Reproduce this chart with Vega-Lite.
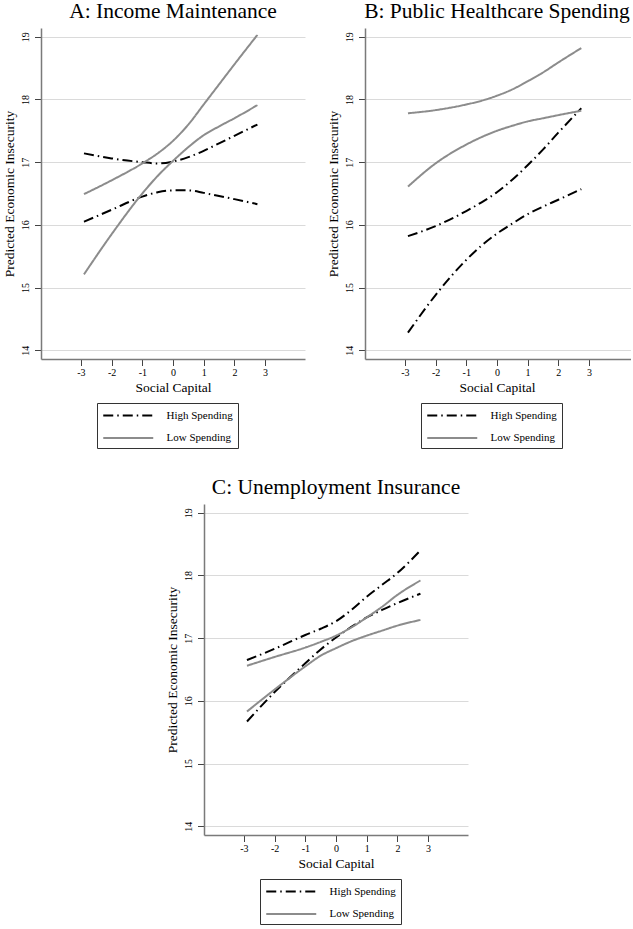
{
  "$schema": "https://vega.github.io/schema/vega-lite/v6.json",
  "padding": {"left": 2, "top": 0, "right": 0, "bottom": 0},
  "background": "white",
  "spacing": 27,
  "center": true,
  "config": {
    "view": {"stroke": null},
    "font": "Liberation Serif",
    "axis": {
      "labelFont": "Liberation Serif",
      "titleFont": "Liberation Serif",
      "labelColor": "#000000",
      "titleColor": "#000000",
      "titleFontWeight": "normal",
      "labelFontSize": 10,
      "titleFontSize": 13.5,
      "domainColor": "#7a7a7a",
      "domainWidth": 1.5,
      "tickColor": "#444444",
      "tickWidth": 1,
      "tickSize": 6.5,
      "gridColor": "#dadada",
      "gridWidth": 1
    },
    "axisX": {"grid": false, "labelPadding": 2, "titlePadding": 3},
    "axisY": {"labelAngle": -90, "labelAlign": "center", "labelBaseline": "bottom", "labelPadding": 4, "titlePadding": 4},
    "title": {"font": "Liberation Serif", "fontSize": 21.5, "fontWeight": "normal", "color": "#000000", "frame": "group", "anchor": "middle", "baseline": "alphabetic", "offset": 6},
    "legend": {
      "orient": "none",
      "legendX": 56,
      "legendY": 375,
      "direction": "vertical",
      "title": null,
      "symbolType": "M-1,0H7",
      "symbolSize": 156.25,
      "symbolStrokeWidth": 2,
      "labelFont": "Liberation Serif",
      "labelFontSize": 11,
      "labelColor": "#000000",
      "labelOffset": 49.5,
      "strokeColor": "#333333",
      "fillColor": "white",
      "padding": 5,
      "rowPadding": 9.5
    }
  },
  "vconcat": [
    {
      "hconcat": [
        {
          "title": "A: Income Maintenance",
          "width": 264,
          "height": 331,
          "data": {"values": [
            {"group": "High Spending", "bound": "upper", "x": -2.9, "y": 17.14},
            {"group": "High Spending", "bound": "upper", "x": -2, "y": 17.06},
            {"group": "High Spending", "bound": "upper", "x": -1, "y": 17.0},
            {"group": "High Spending", "bound": "upper", "x": -0.5, "y": 16.98},
            {"group": "High Spending", "bound": "upper", "x": 0, "y": 17.01},
            {"group": "High Spending", "bound": "upper", "x": 0.5, "y": 17.08},
            {"group": "High Spending", "bound": "upper", "x": 1, "y": 17.18},
            {"group": "High Spending", "bound": "upper", "x": 1.5, "y": 17.3},
            {"group": "High Spending", "bound": "upper", "x": 2, "y": 17.42},
            {"group": "High Spending", "bound": "upper", "x": 2.75, "y": 17.6},
            {"group": "High Spending", "bound": "lower", "x": -2.9, "y": 16.05},
            {"group": "High Spending", "bound": "lower", "x": -2, "y": 16.24},
            {"group": "High Spending", "bound": "lower", "x": -1, "y": 16.45},
            {"group": "High Spending", "bound": "lower", "x": -0.5, "y": 16.52},
            {"group": "High Spending", "bound": "lower", "x": 0, "y": 16.55},
            {"group": "High Spending", "bound": "lower", "x": 0.5, "y": 16.55},
            {"group": "High Spending", "bound": "lower", "x": 1, "y": 16.51},
            {"group": "High Spending", "bound": "lower", "x": 1.5, "y": 16.46},
            {"group": "High Spending", "bound": "lower", "x": 2, "y": 16.41},
            {"group": "High Spending", "bound": "lower", "x": 2.75, "y": 16.33},
            {"group": "Low Spending", "bound": "upper", "x": -2.9, "y": 16.49},
            {"group": "Low Spending", "bound": "upper", "x": -2, "y": 16.71},
            {"group": "Low Spending", "bound": "upper", "x": -1, "y": 16.98},
            {"group": "Low Spending", "bound": "upper", "x": -0.5, "y": 17.14},
            {"group": "Low Spending", "bound": "upper", "x": 0, "y": 17.34},
            {"group": "Low Spending", "bound": "upper", "x": 0.5, "y": 17.6},
            {"group": "Low Spending", "bound": "upper", "x": 1, "y": 17.92},
            {"group": "Low Spending", "bound": "upper", "x": 1.5, "y": 18.24},
            {"group": "Low Spending", "bound": "upper", "x": 2, "y": 18.56},
            {"group": "Low Spending", "bound": "upper", "x": 2.75, "y": 19.03},
            {"group": "Low Spending", "bound": "lower", "x": -2.9, "y": 15.21},
            {"group": "Low Spending", "bound": "lower", "x": -2, "y": 15.85},
            {"group": "Low Spending", "bound": "lower", "x": -1, "y": 16.5},
            {"group": "Low Spending", "bound": "lower", "x": -0.5, "y": 16.78},
            {"group": "Low Spending", "bound": "lower", "x": 0, "y": 17.02},
            {"group": "Low Spending", "bound": "lower", "x": 0.5, "y": 17.24},
            {"group": "Low Spending", "bound": "lower", "x": 1, "y": 17.43},
            {"group": "Low Spending", "bound": "lower", "x": 1.5, "y": 17.57},
            {"group": "Low Spending", "bound": "lower", "x": 2, "y": 17.7},
            {"group": "Low Spending", "bound": "lower", "x": 2.75, "y": 17.91}
          ]},
          "mark": {"type": "line", "strokeWidth": 2, "interpolate": "monotone"},
          "encoding": {
            "x": {"field": "x", "type": "quantitative", "title": "Social Capital", "scale": {"domain": [-4.3, 4.3], "nice": false, "zero": false}, "axis": {"values": [-3, -2, -1, 0, 1, 2, 3], "labelExpr": "'' + datum.value"}},
            "y": {"field": "y", "type": "quantitative", "title": "Predicted Economic Insecurity", "scale": {"domain": [13.86, 19.14], "nice": false, "zero": false}, "axis": {"values": [14, 15, 16, 17, 18, 19]}},
            "color": {"field": "group", "type": "nominal", "scale": {"domain": ["High Spending", "Low Spending"], "range": ["#000000", "#8c8c8c"]}},
            "strokeDash": {"field": "group", "type": "nominal", "scale": {"domain": ["High Spending", "Low Spending"], "range": [[10, 4, 1.5, 4], [1, 0]]}},
            "detail": {"field": "bound"}
          }
        },
        {
          "title": {"text": "B: Public Healthcare Spending", "dx": -1},
          "width": 266,
          "height": 331,
          "data": {"values": [
            {"group": "High Spending", "bound": "upper", "x": -2.9, "y": 15.82},
            {"group": "High Spending", "bound": "upper", "x": -2, "y": 15.98},
            {"group": "High Spending", "bound": "upper", "x": -1, "y": 16.22},
            {"group": "High Spending", "bound": "upper", "x": -0.5, "y": 16.36},
            {"group": "High Spending", "bound": "upper", "x": 0, "y": 16.52},
            {"group": "High Spending", "bound": "upper", "x": 0.5, "y": 16.72},
            {"group": "High Spending", "bound": "upper", "x": 1, "y": 16.95},
            {"group": "High Spending", "bound": "upper", "x": 1.5, "y": 17.2},
            {"group": "High Spending", "bound": "upper", "x": 2, "y": 17.47},
            {"group": "High Spending", "bound": "upper", "x": 2.75, "y": 17.86},
            {"group": "High Spending", "bound": "lower", "x": -2.9, "y": 14.28},
            {"group": "High Spending", "bound": "lower", "x": -2, "y": 14.88},
            {"group": "High Spending", "bound": "lower", "x": -1, "y": 15.44},
            {"group": "High Spending", "bound": "lower", "x": -0.5, "y": 15.67},
            {"group": "High Spending", "bound": "lower", "x": 0, "y": 15.86},
            {"group": "High Spending", "bound": "lower", "x": 0.5, "y": 16.02},
            {"group": "High Spending", "bound": "lower", "x": 1, "y": 16.17},
            {"group": "High Spending", "bound": "lower", "x": 1.5, "y": 16.29},
            {"group": "High Spending", "bound": "lower", "x": 2, "y": 16.4},
            {"group": "High Spending", "bound": "lower", "x": 2.75, "y": 16.57},
            {"group": "Low Spending", "bound": "upper", "x": -2.9, "y": 17.78},
            {"group": "Low Spending", "bound": "upper", "x": -2, "y": 17.83},
            {"group": "Low Spending", "bound": "upper", "x": -1, "y": 17.92},
            {"group": "Low Spending", "bound": "upper", "x": -0.5, "y": 17.98},
            {"group": "Low Spending", "bound": "upper", "x": 0, "y": 18.06},
            {"group": "Low Spending", "bound": "upper", "x": 0.5, "y": 18.16},
            {"group": "Low Spending", "bound": "upper", "x": 1, "y": 18.29},
            {"group": "Low Spending", "bound": "upper", "x": 1.5, "y": 18.43},
            {"group": "Low Spending", "bound": "upper", "x": 2, "y": 18.59},
            {"group": "Low Spending", "bound": "upper", "x": 2.75, "y": 18.82},
            {"group": "Low Spending", "bound": "lower", "x": -2.9, "y": 16.61},
            {"group": "Low Spending", "bound": "lower", "x": -2, "y": 16.98},
            {"group": "Low Spending", "bound": "lower", "x": -1, "y": 17.28},
            {"group": "Low Spending", "bound": "lower", "x": -0.5, "y": 17.4},
            {"group": "Low Spending", "bound": "lower", "x": 0, "y": 17.5},
            {"group": "Low Spending", "bound": "lower", "x": 0.5, "y": 17.58},
            {"group": "Low Spending", "bound": "lower", "x": 1, "y": 17.65},
            {"group": "Low Spending", "bound": "lower", "x": 1.5, "y": 17.7},
            {"group": "Low Spending", "bound": "lower", "x": 2, "y": 17.75},
            {"group": "Low Spending", "bound": "lower", "x": 2.75, "y": 17.82}
          ]},
          "mark": {"type": "line", "strokeWidth": 2, "interpolate": "monotone"},
          "encoding": {
            "x": {"field": "x", "type": "quantitative", "title": "Social Capital", "scale": {"domain": [-4.3, 4.37], "nice": false, "zero": false}, "axis": {"values": [-3, -2, -1, 0, 1, 2, 3], "labelExpr": "'' + datum.value", "titleX": 132}},
            "y": {"field": "y", "type": "quantitative", "title": "Predicted Economic Insecurity", "scale": {"domain": [13.86, 19.14], "nice": false, "zero": false}, "axis": {"values": [14, 15, 16, 17, 18, 19]}},
            "color": {"field": "group", "type": "nominal", "scale": {"domain": ["High Spending", "Low Spending"], "range": ["#000000", "#8c8c8c"]}},
            "strokeDash": {"field": "group", "type": "nominal", "scale": {"domain": ["High Spending", "Low Spending"], "range": [[10, 4, 1.5, 4], [1, 0]]}},
            "detail": {"field": "bound"}
          }
        }
      ],
      "spacing": 21,
      "resolve": {"scale": {"color": "independent", "strokeDash": "independent"}}
    },
    {
      "title": "C: Unemployment Insurance",
      "width": 264,
      "height": 331,
      "data": {"values": [
        {"group": "High Spending", "bound": "upper", "x": -2.9, "y": 16.65},
        {"group": "High Spending", "bound": "upper", "x": -2, "y": 16.83},
        {"group": "High Spending", "bound": "upper", "x": -1, "y": 17.05},
        {"group": "High Spending", "bound": "upper", "x": -0.5, "y": 17.15},
        {"group": "High Spending", "bound": "upper", "x": 0, "y": 17.27},
        {"group": "High Spending", "bound": "upper", "x": 0.5, "y": 17.45},
        {"group": "High Spending", "bound": "upper", "x": 1, "y": 17.66},
        {"group": "High Spending", "bound": "upper", "x": 1.5, "y": 17.85},
        {"group": "High Spending", "bound": "upper", "x": 2, "y": 18.04},
        {"group": "High Spending", "bound": "upper", "x": 2.75, "y": 18.4},
        {"group": "High Spending", "bound": "lower", "x": -2.9, "y": 15.67},
        {"group": "High Spending", "bound": "lower", "x": -2, "y": 16.14},
        {"group": "High Spending", "bound": "lower", "x": -1, "y": 16.6},
        {"group": "High Spending", "bound": "lower", "x": -0.5, "y": 16.82},
        {"group": "High Spending", "bound": "lower", "x": 0, "y": 17.01},
        {"group": "High Spending", "bound": "lower", "x": 0.5, "y": 17.18},
        {"group": "High Spending", "bound": "lower", "x": 1, "y": 17.33},
        {"group": "High Spending", "bound": "lower", "x": 1.5, "y": 17.45},
        {"group": "High Spending", "bound": "lower", "x": 2, "y": 17.56},
        {"group": "High Spending", "bound": "lower", "x": 2.75, "y": 17.71},
        {"group": "Low Spending", "bound": "upper", "x": -2.9, "y": 16.56},
        {"group": "Low Spending", "bound": "upper", "x": -2, "y": 16.7},
        {"group": "Low Spending", "bound": "upper", "x": -1, "y": 16.85},
        {"group": "Low Spending", "bound": "upper", "x": -0.5, "y": 16.94},
        {"group": "Low Spending", "bound": "upper", "x": 0, "y": 17.04},
        {"group": "Low Spending", "bound": "upper", "x": 0.5, "y": 17.17},
        {"group": "Low Spending", "bound": "upper", "x": 1, "y": 17.33},
        {"group": "Low Spending", "bound": "upper", "x": 1.5, "y": 17.5},
        {"group": "Low Spending", "bound": "upper", "x": 2, "y": 17.69},
        {"group": "Low Spending", "bound": "upper", "x": 2.75, "y": 17.92},
        {"group": "Low Spending", "bound": "lower", "x": -2.9, "y": 15.83},
        {"group": "Low Spending", "bound": "lower", "x": -2, "y": 16.18},
        {"group": "Low Spending", "bound": "lower", "x": -1, "y": 16.55},
        {"group": "Low Spending", "bound": "lower", "x": -0.5, "y": 16.72},
        {"group": "Low Spending", "bound": "lower", "x": 0, "y": 16.84},
        {"group": "Low Spending", "bound": "lower", "x": 0.5, "y": 16.95},
        {"group": "Low Spending", "bound": "lower", "x": 1, "y": 17.04},
        {"group": "Low Spending", "bound": "lower", "x": 1.5, "y": 17.12},
        {"group": "Low Spending", "bound": "lower", "x": 2, "y": 17.2},
        {"group": "Low Spending", "bound": "lower", "x": 2.75, "y": 17.29}
      ]},
      "mark": {"type": "line", "strokeWidth": 2, "interpolate": "monotone"},
      "encoding": {
        "x": {"field": "x", "type": "quantitative", "title": "Social Capital", "scale": {"domain": [-4.3, 4.3], "nice": false, "zero": false}, "axis": {"values": [-3, -2, -1, 0, 1, 2, 3], "labelExpr": "'' + datum.value"}},
        "y": {"field": "y", "type": "quantitative", "title": "Predicted Economic Insecurity", "scale": {"domain": [13.86, 19.14], "nice": false, "zero": false}, "axis": {"values": [14, 15, 16, 17, 18, 19]}},
        "color": {"field": "group", "type": "nominal", "scale": {"domain": ["High Spending", "Low Spending"], "range": ["#000000", "#8c8c8c"]}},
        "strokeDash": {"field": "group", "type": "nominal", "scale": {"domain": ["High Spending", "Low Spending"], "range": [[10, 4, 1.5, 4], [1, 0]]}},
        "detail": {"field": "bound"}
      }
    }
  ],
  "resolve": {"scale": {"color": "independent", "strokeDash": "independent"}}
}
